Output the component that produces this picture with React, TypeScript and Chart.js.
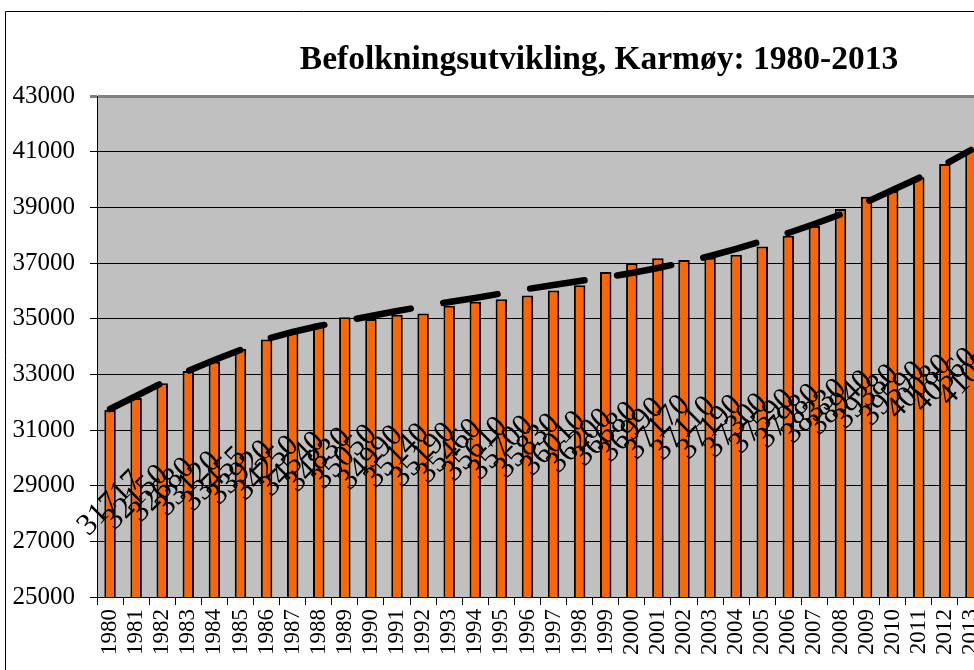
import React, { useEffect, useRef } from "react";
import { Chart, registerables } from "chart.js";

Chart.register(...registerables);

const years = [
  "1980","1981","1982","1983","1984","1985","1986","1987","1988","1989",
  "1990","1991","1992","1993","1994","1995","1996","1997","1998","1999",
  "2000","2001","2002","2003","2004","2005","2006","2007","2008","2009",
  "2010","2011","2012","2013",
];

const population = [
  31717, 32150, 32680, 33120, 33455, 33920, 34250, 34540, 34830, 35050,
  34990, 35140, 35190, 35460, 35610, 35700, 35830, 36010, 36200, 36680,
  36990, 37170, 37110, 37190, 37300, 37590, 37980, 38330, 38940, 39380,
  39590, 40080, 40560, 41050,
];

const trend = [
  31755, 32222, 32689, 33120, 33515, 33875, 34270, 34521, 34737, 34917,
  35096, 35276, 35438, 35599, 35743, 35905, 36066, 36210, 36354, 36480,
  36641, 36821, 37019, 37252, 37504, 37791, 38079, 38402, 38743, 39192,
  39624, 40055, 40540, 41061,
];

const yTicks = [25000, 27000, 29000, 31000, 33000, 35000, 37000, 39000, 41000, 43000];

const TITLE = "Befolkningsutvikling, Karmøy: 1980-2013";

const CANVAS_W = 1198;
const CANVAS_H = 700;

export default function App() {
  const ref = useRef<HTMLCanvasElement | null>(null);

  useEffect(() => {
    const canvas = ref.current;
    if (!canvas) return;

    const backgroundPlugin = {
      id: "bgPlugin",
      beforeDraw(chart: any) {
        const { ctx, chartArea } = chart;
        ctx.save();
        ctx.fillStyle = "#ffffff";
        ctx.fillRect(0, 0, chart.width, chart.height);
        ctx.strokeStyle = "#000000";
        ctx.lineWidth = 1;
        ctx.beginPath();
        ctx.moveTo(5.5, chart.height);
        ctx.lineTo(5.5, 11.5);
        ctx.lineTo(chart.width, 11.5);
        ctx.stroke();
        ctx.fillStyle = "#C0C0C0";
        ctx.fillRect(
          chartArea.left,
          chartArea.top,
          chartArea.right - chartArea.left,
          chartArea.bottom - chartArea.top
        );
        ctx.fillStyle = "#000000";
        ctx.font = "bold 33.5px 'Liberation Serif'";
        ctx.textAlign = "center";
        ctx.textBaseline = "alphabetic";
        ctx.fillText(TITLE, chart.width / 2, 69);
        ctx.restore();
      },
    };

    const labelPlugin = {
      id: "barLabels",
      afterDatasetsDraw(chart: any) {
        const { ctx } = chart;
        const meta = chart.getDatasetMeta(0);
        const yScale = chart.scales.y;
        ctx.save();
        ctx.fillStyle = "#000000";
        ctx.font = "31px 'Liberation Serif'";
        ctx.textAlign = "center";
        ctx.textBaseline = "middle";
        meta.data.forEach((bar: any, i: number) => {
          const v = population[i];
          const mid = (yScale.min + v) / 2;
          const y = yScale.getPixelForValue(mid);
          ctx.save();
          ctx.translate(bar.x, y);
          ctx.rotate(-Math.PI / 4);
          ctx.fillText(String(v), 0, 0);
          ctx.restore();
        });
        ctx.restore();
      },
    };

    const chart = new Chart(canvas, {
      data: {
        labels: years,
        datasets: [
          {
            type: "bar",
            label: "Befolkning",
            data: population,
            backgroundColor: "#FF6600",
            borderColor: "#000000",
            borderWidth: 2,
            barPercentage: 0.44,
            categoryPercentage: 1,
            order: 1,
          },
          {
            type: "line",
            label: "Trend",
            data: trend,
            borderColor: "#000000",
            borderWidth: 6.5,
            borderDash: [55, 33],
            borderDashOffset: 0,
            borderCapStyle: "round",
            pointRadius: 0,
            tension: 0,
            fill: false,
            order: 0,
          },
        ],
      } as any,
      options: {
        responsive: false,
        animation: false,
        devicePixelRatio: 1,
        layout: { padding: { left: 0, right: 214, top: 96, bottom: 0 } },
        plugins: {
          legend: { display: false },
          tooltip: { enabled: false },
          title: { display: false },
        },
        scales: {
          x: {
            type: "category",
            offset: true,
            grid: {
              display: true,
              offset: true,
              drawOnChartArea: false,
              drawTicks: true,
              tickLength: 8,
              color: "#000000",
              lineWidth: 1,
            },
            border: { display: true, color: "#000000", width: 1 },
            ticks: {
              autoSkip: false,
              maxRotation: 90,
              minRotation: 90,
              padding: 4,
              color: "#000000",
              font: { family: "'Liberation Serif'", size: 23 },
            },
            afterFit(scale: any) {
              scale.height = CANVAS_H - 597;
            },
          },
          y: {
            type: "linear",
            min: 25000,
            max: 43000,
            afterBuildTicks(scale: any) {
              scale.ticks = yTicks.map((v) => ({ value: v }));
            },
            grid: {
              color: (c: any) => (c.tick && c.tick.value === 43000 ? "#808080" : "#000000"),
              lineWidth: (c: any) => (c.tick && c.tick.value === 43000 ? 3 : 1),
              tickLength: 7,
              drawTicks: true,
            },
            border: { display: true, color: "#000000", width: 1 },
            ticks: {
              padding: 15,
              color: "#000000",
              font: { family: "'Liberation Serif'", size: 25 },
              callback: (v: any) => String(v),
            },
            afterFit(scale: any) {
              scale.width = 97;
            },
          },
        },
      } as any,
      plugins: [backgroundPlugin, labelPlugin],
    });

    return () => {
      chart.destroy();
    };
  }, []);

  return (
    <div
      style={{
        position: "fixed",
        left: 0,
        top: 0,
        width: 974,
        height: 670,
        overflow: "hidden",
        background: "#ffffff",
      }}
    >
      <canvas
        ref={ref}
        width={CANVAS_W}
        height={CANVAS_H}
        style={{ position: "absolute", left: 0, top: 0, width: CANVAS_W, height: CANVAS_H }}
      />
    </div>
  );
}
